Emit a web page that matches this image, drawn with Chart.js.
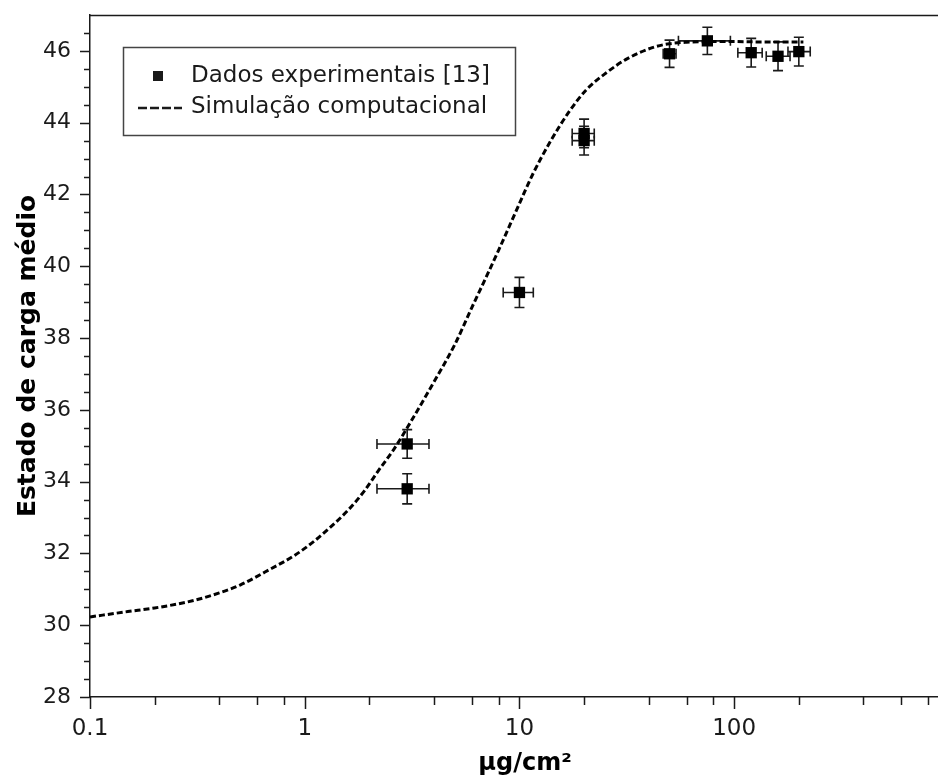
<!DOCTYPE html>
<html><head><meta charset="utf-8">
<script src="https://cdn.jsdelivr.net/npm/chart.js@4.4.1/dist/chart.umd.min.js"></script>
<style>html,body{margin:0;padding:0;background:#fff;}#wrap{width:938px;height:782px;}</style>
</head><body><div id="wrap"><canvas id="c" width="938" height="782"></canvas></div>
<script>
// Experimental data
const expX     = [3, 3, 10, 20, 20, 50, 75, 120, 160, 200];
const expY     = [35.05, 33.8, 39.27, 43.7, 43.5, 45.92, 46.28, 45.95, 45.85, 45.98];
const expXLow  = [2.17, 2.17, 8.4, 17.6, 17.6, 46.7, 55, 104, 141, 178];
const expXHigh = [3.79, 3.79, 11.6, 22.3, 22.3, 53.6, 96, 135, 182, 226];
const expYErr  = [0.4, 0.42, 0.42, 0.4, 0.4, 0.38, 0.38, 0.4, 0.4, 0.4];
// Simulation curve
const simX = [0.1, 0.15, 0.2, 0.3, 0.4, 0.5, 0.7, 0.9, 1.1, 1.3, 1.6, 1.9, 2.2, 2.6, 3, 4, 5, 6, 7, 8, 10, 11.5, 14, 17, 20.5, 25.5, 31.5, 42, 50, 60, 80, 100, 130, 160, 210];
const simY = [30.23, 30.38, 30.48, 30.68, 30.9, 31.12, 31.58, 31.95, 32.33, 32.7, 33.22, 33.75, 34.3, 34.9, 35.5, 36.78, 37.82, 38.85, 39.7, 40.45, 41.75, 42.55, 43.5, 44.3, 44.92, 45.4, 45.77, 46.1, 46.2, 46.24, 46.26, 46.26, 46.25, 46.25, 46.25];
// Ticks
const xTickValues = [0.1, 1, 10, 100];
const xTickLabels = ['0.1', '1', '10', '100'];
const xMinorTicks = [0.2, 0.4, 0.6, 0.8, 2, 4, 6, 8, 20, 40, 60, 80, 200, 400, 600, 800];
const yTickValues = [28, 30, 32, 34, 36, 38, 40, 42, 44, 46];
const yTickLabels = ['28', '30', '32', '34', '36', '38', '40', '42', '44', '46'];
const yMinorStep = 0.5;

const seriesLabels = ['Dados experimentais [13]', 'Simulação computacional'];
const xTitle = 'µg/cm²';
const yTitle = 'Estado de carga médio';

const FONT = 'DejaVu Sans';
const INK = '#1a1a1a';

const errorBars = {
  id: 'errorBars',
  beforeDatasetsDraw(chart) {
    const {ctx, scales: {x, y}} = chart;
    ctx.save();
    ctx.strokeStyle = INK;
    ctx.lineWidth = 1.6;
    const cap = 5;
    for (let i = 0; i < expX.length; i++) {
      const px = x.getPixelForValue(expX[i]);
      const py = y.getPixelForValue(expY[i]);
      const xl = x.getPixelForValue(expXLow[i]);
      const xh = x.getPixelForValue(expXHigh[i]);
      const yt = y.getPixelForValue(expY[i] + expYErr[i]);
      const yb = y.getPixelForValue(expY[i] - expYErr[i]);
      ctx.beginPath();
      ctx.moveTo(xl, py); ctx.lineTo(xh, py);
      ctx.moveTo(xl, py - cap); ctx.lineTo(xl, py + cap);
      ctx.moveTo(xh, py - cap); ctx.lineTo(xh, py + cap);
      ctx.moveTo(px, yt); ctx.lineTo(px, yb);
      ctx.moveTo(px - cap, yt); ctx.lineTo(px + cap, yt);
      ctx.moveTo(px - cap, yb); ctx.lineTo(px + cap, yb);
      ctx.stroke();
    }
    ctx.restore();
  }
};

const axisDecor = {
  id: 'axisDecor',
  afterDraw(chart) {
    const {ctx, chartArea: a, scales: {x, y}} = chart;
    ctx.save();
    ctx.strokeStyle = INK;
    ctx.lineWidth = 1.5;
    ctx.beginPath();
    // top frame line
    ctx.moveTo(a.left, a.top + 0.5); ctx.lineTo(a.right + 1, a.top + 0.5);
    // x ticks
    xTickValues.forEach(v => { const p = Math.round(x.getPixelForValue(v)) + 0.5; ctx.moveTo(p, a.bottom); ctx.lineTo(p, a.bottom + 12); });
    xMinorTicks.forEach(v => { const p = Math.round(x.getPixelForValue(v)) + 0.5; ctx.moveTo(p, a.bottom); ctx.lineTo(p, a.bottom + 8); });
    // y ticks
    for (let v = y.min + yMinorStep; v < y.max; v += yMinorStep) {
      const p = Math.round(y.getPixelForValue(v)) + 0.5;
      const major = yTickValues.some(t => Math.abs(t - v) < 1e-6);
      ctx.moveTo(a.left, p); ctx.lineTo(a.left - (major ? 10 : 6), p);
    }
    { const p = Math.round(y.getPixelForValue(yTickValues[0])) + 0.5; ctx.moveTo(a.left, p); ctx.lineTo(a.left - 10, p); }
    ctx.stroke();

    // legend
    const bx = 123.5, by = 47.5, bw = 392, bh = 88;
    ctx.lineWidth = 1.5;
    ctx.strokeStyle = '#444';
    ctx.strokeRect(bx, by, bw, bh);
    ctx.fillStyle = INK;
    ctx.font = '23px "' + FONT + '"';
    ctx.textBaseline = 'middle';
    ctx.textAlign = 'left';
    const r1 = 76, r2 = 107;
    ctx.fillRect(153, r1 - 5, 10, 10);
    ctx.fillText(seriesLabels[0], 191, r1);
    ctx.strokeStyle = INK;
    ctx.lineWidth = 2.5;
    ctx.setLineDash([9, 3]);
    ctx.beginPath(); ctx.moveTo(138, r2 + 1); ctx.lineTo(182, r2 + 1); ctx.stroke();
    ctx.setLineDash([]);
    ctx.fillText(seriesLabels[1], 191, r2);

    // x axis title (centered as in reference)
    ctx.fillStyle = '#000';
    ctx.font = 'bold 24px "' + FONT + '"';
    ctx.textAlign = 'center';
    ctx.textBaseline = 'middle';
    ctx.fillText(xTitle, 525, 764);
    ctx.restore();
  }
};

new Chart(document.getElementById('c'), {
  type: 'scatter',
  data: {
    datasets: [
      {
        label: seriesLabels[0],
        data: expX.map((v, i) => ({x: v, y: expY[i]})),
        pointStyle: 'rect', pointRadius: 8, pointHoverRadius: 8,
        backgroundColor: '#000', borderColor: '#000', borderWidth: 0,
        showLine: false, order: 0
      },
      {
        label: seriesLabels[1],
        data: simX.map((v, i) => ({x: v, y: simY[i]})),
        showLine: true, pointRadius: 0, borderColor: '#000', borderWidth: 3,
        borderDash: [6, 3], cubicInterpolationMode: 'monotone', fill: false, order: 1
      }
    ]
  },
  options: {
    responsive: false, animation: false, devicePixelRatio: 1,
    layout: {autoPadding: false, padding: {top: 15, right: 1, left: 0, bottom: 0}},
    plugins: {legend: {display: false}, tooltip: {enabled: false}},
    scales: {
      x: {
        type: 'logarithmic', min: 0.1, max: 880,
        afterBuildTicks: s => { s.ticks = xTickValues.map(v => ({value: v})); },
        afterFit: s => { s.height = 85; s.paddingLeft = 0; s.paddingRight = 0; },
        ticks: {callback: (v, i) => xTickLabels[i], font: {family: FONT, size: 23}, color: INK, padding: 18, maxRotation: 0, autoSkip: false},
        grid: {display: false, drawTicks: false},
        border: {display: true, color: INK, width: 1.5},
        title: {display: false, text: xTitle}
      },
      y: {
        type: 'linear', min: 28, max: 47,
        afterBuildTicks: s => { s.ticks = yTickValues.map(v => ({value: v})); },
        afterFit: s => { s.width = 90; s.paddingTop = 0; s.paddingBottom = 0; },
        ticks: {callback: (v, i) => yTickLabels[i], font: {family: FONT, size: 22}, color: INK, padding: 19, autoSkip: false},
        grid: {display: false, drawTicks: false},
        border: {display: true, color: INK, width: 1.5},
        title: {display: true, text: yTitle, font: {family: FONT, size: 25, weight: 'bold'}, color: '#000', padding: {top: 13, bottom: 0}}
      }
    }
  },
  plugins: [errorBars, axisDecor]
});
</script></body></html>
